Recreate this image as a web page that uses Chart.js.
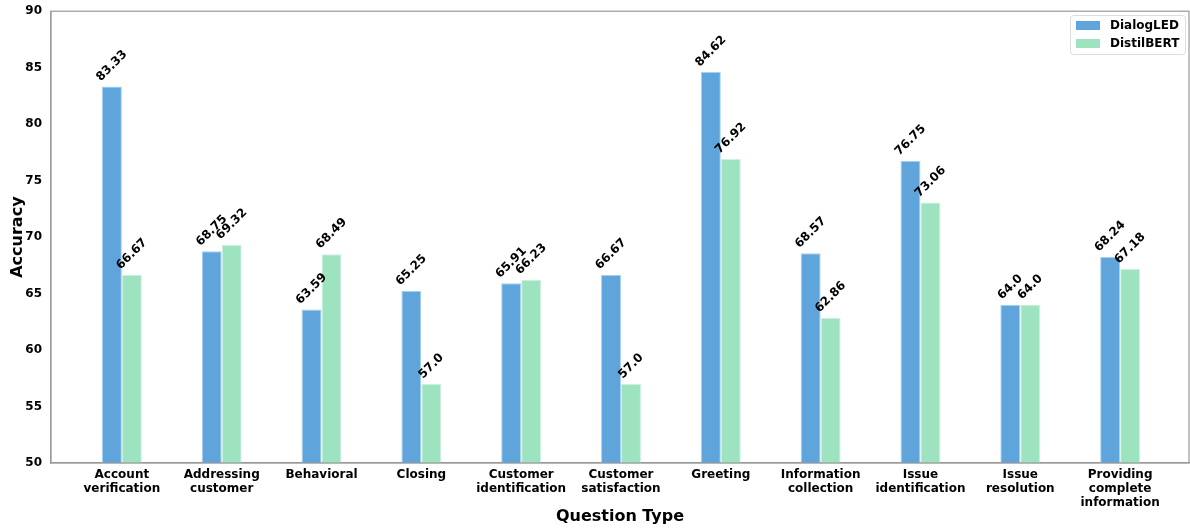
<!DOCTYPE html>
<html>
<head>
<meta charset="utf-8">
<script src="https://cdn.jsdelivr.net/npm/chart.js@4.4.1/dist/chart.umd.min.js"></script>
<style>
  html, body { margin: 0; padding: 0; background: #fff; }
  #wrap { width: 1190px; height: 528px; }
</style>
</head>
<body>
<div id="wrap"><canvas id="c" width="1190" height="528"></canvas></div>
<script>
const categories = [
  ['Account', 'verification'],
  ['Addressing', 'customer'],
  ['Behavioral'],
  ['Closing'],
  ['Customer', 'identification'],
  ['Customer', 'satisfaction'],
  ['Greeting'],
  ['Information', 'collection'],
  ['Issue', 'identification'],
  ['Issue', 'resolution'],
  ['Providing', 'complete', 'information']
];
const dialogLED  = [83.33, 68.75, 63.59, 65.25, 65.91, 66.67, 84.62, 68.57, 76.75, 64.0, 68.24];
const distilBERT = [66.67, 69.32, 68.49, 57.0, 66.23, 57.0, 76.92, 62.86, 73.06, 64.0, 67.18];
const yTicks = [50, 55, 60, 65, 70, 75, 80, 85, 90];

const BLUE = '#5fa5dc';
const GREEN = '#9ee3c0';
const FONT = '"DejaVu Sans", sans-serif';
const AXIS = '#9a9a9a';
const FS = 12;

const asPoints = arr => arr.map((v, i) => ({ x: i, y: v }));

// rotated value labels above each bar (like matplotlib rotation=45, ha=center, va=bottom)
const valueLabels = {
  id: 'valueLabels',
  afterDatasetsDraw(chart) {
    const ctx = chart.ctx;
    ctx.save();
    ctx.font = `bold ${FS}px ${FONT}`;
    ctx.fillStyle = '#000';
    ctx.textAlign = 'center';
    ctx.textBaseline = 'middle';
    chart.data.datasets.forEach((ds, di) => {
      chart.getDatasetMeta(di).data.forEach((bar, i) => {
        const v = ds.raw[i];
        const txt = v % 1 === 0 ? v.toFixed(1) : String(v);
        const w = ctx.measureText(txt).width;
        const side = (w + FS) * Math.SQRT1_2;
        ctx.save();
        ctx.translate(bar.x, bar.y - side / 2 - 3);
        ctx.rotate(-Math.PI / 4);
        ctx.fillText(txt, 0, 0);
        ctx.restore();
      });
    });
    ctx.restore();
  }
};

// frame like matplotlib spines
const frame = {
  id: 'frame',
  afterDraw(chart) {
    const a = chart.chartArea, ctx = chart.ctx;
    ctx.save();
    ctx.strokeStyle = AXIS;
    ctx.lineWidth = 1.2;
    ctx.strokeRect(a.left, a.top, a.right - a.left, a.bottom - a.top);
    ctx.restore();
  }
};

const legendBox = {
  id: 'legendBox',
  afterDraw(chart) {
    const ctx = chart.ctx;
    const x = 1070, y = 15, w = 115, h = 39;
    ctx.save();
    ctx.fillStyle = 'rgba(255,255,255,0.8)';
    ctx.strokeStyle = '#dcdcdc';
    ctx.lineWidth = 1;
    ctx.beginPath();
    ctx.roundRect(x + 0.5, y + 0.5, w, h, 3);
    ctx.fill(); ctx.stroke();
    ctx.font = `bold ${FS}px ${FONT}`;
    ctx.textBaseline = 'middle';
    chart.data.datasets.forEach((ds, i) => {
      const ry = y + 10 + i * 18;
      ctx.fillStyle = ds.backgroundColor;
      ctx.fillRect(x + 6, ry - 4, 24, 9);
      ctx.fillStyle = '#000';
      ctx.fillText(ds.label, x + 40, ry + 1);
    });
    ctx.restore();
  }
};

new Chart(document.getElementById('c'), {
  type: 'bar',
  data: {
    datasets: [
      { label: 'DialogLED', data: asPoints(dialogLED), raw: dialogLED,
        backgroundColor: BLUE, borderColor: '#a9d0ee', borderWidth: 1 },
      { label: 'DistilBERT', data: asPoints(distilBERT), raw: distilBERT,
        backgroundColor: GREEN, borderColor: '#cdf1de', borderWidth: 1 }
    ]
  },
  options: {
    responsive: false,
    animation: false,
    devicePixelRatio: 1,
    layout: { padding: { left: 0, right: 1, top: 9, bottom: 0 } },
    datasets: { bar: { categoryPercentage: 0.4, barPercentage: 1.0 } },
    scales: {
      x: {
        type: 'linear',
        offset: false,
        min: -0.71,
        max: 10.69,
        afterBuildTicks: s => { s.ticks = categories.map((c, i) => ({ value: i })); },
        afterFit: s => { s.height = 65; },
        grid: { display: false, drawTicks: true, tickLength: 5, color: AXIS },
        border: { display: true, color: AXIS, width: 1.2 },
        ticks: {
          autoSkip: false, maxRotation: 0, padding: 0,
          color: '#000',
          font: { family: FONT, weight: 'bold', size: FS, lineHeight: 1.15 },
          callback: v => categories[v] || ''
        },
        title: {
          display: true, text: 'Question Type', color: '#000',
          font: { family: FONT, weight: 'bold', size: 16 },
          padding: { top: 0, bottom: 2 }
        }
      },
      y: {
        min: 50, max: 90,
        afterBuildTicks: s => { s.ticks = yTicks.map(v => ({ value: v })); },
        afterFit: s => { s.width = 51; },
        grid: { display: false, drawTicks: true, tickLength: 5, color: AXIS },
        border: { display: true, color: AXIS, width: 1.2 },
        ticks: {
          color: '#000', padding: 4,
          font: { family: FONT, weight: 'bold', size: FS }
        },
        title: {
          display: true, text: 'Accuracy', color: '#000',
          font: { family: FONT, weight: 'bold', size: 16 },
          padding: { top: 8, bottom: 0 }
        }
      }
    },
    plugins: {
      legend: { display: false },
      tooltip: { enabled: false }
    }
  },
  plugins: [valueLabels, frame, legendBox]
});
</script>
</body>
</html>
